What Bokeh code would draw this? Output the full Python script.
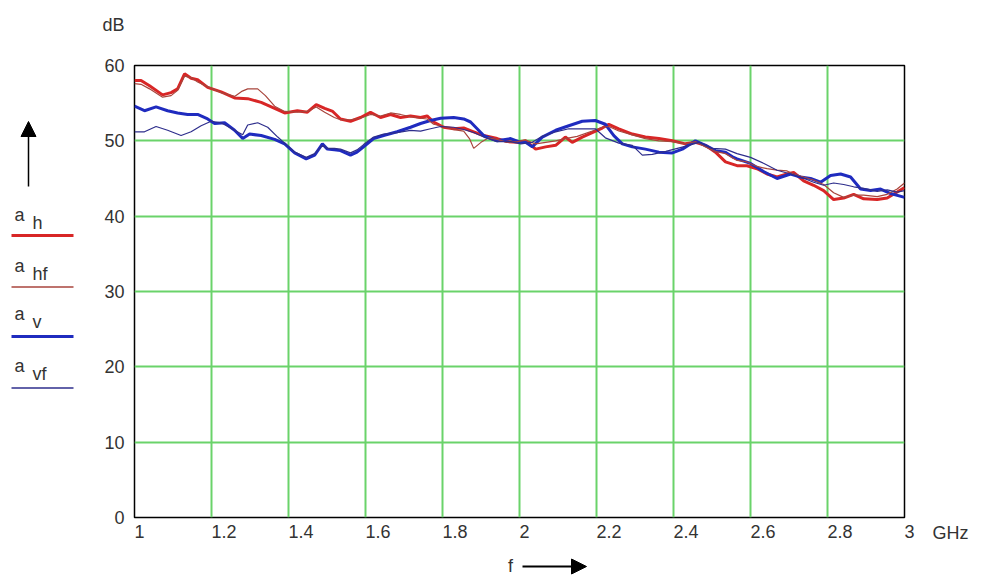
from bokeh.plotting import figure
from bokeh.models import FixedTicker, Label, Arrow, NormalHead, Range1d
from bokeh.layouts import row, column
from bokeh.embed import file_html
from bokeh.resources import INLINE

# ---------------- data ----------------
x_ticks = [1, 1.2, 1.4, 1.6, 1.8, 2, 2.2, 2.4, 2.6, 2.8, 3]
x_tick_labels = ["1", "1.2", "1.4", "1.6", "1.8", "2", "2.2", "2.4", "2.6", "2.8", "3"]
y_ticks = [0, 10, 20, 30, 40, 50, 60]
y_tick_labels = ["0", "10", "20", "30", "40", "50", "60"]

series_names = ["h", "hf", "v", "vf"]

ah_f = [1.000, 1.017, 1.039, 1.073, 1.095, 1.112, 1.130, 1.147, 1.164, 1.190, 1.225, 1.260, 1.294,
        1.329, 1.364, 1.390, 1.423, 1.449, 1.472, 1.494, 1.515, 1.535, 1.561, 1.587, 1.613, 1.639,
        1.665, 1.691, 1.717, 1.743, 1.760, 1.777, 1.803, 1.829, 1.855, 1.881, 1.907, 1.942, 1.968,
        1.994, 2.016, 2.042, 2.068, 2.094, 2.119, 2.137, 2.163, 2.189, 2.215, 2.232, 2.258, 2.293,
        2.327, 2.362, 2.397, 2.431, 2.457, 2.483, 2.509, 2.535, 2.565, 2.591, 2.617, 2.643, 2.669,
        2.695, 2.712, 2.738, 2.764, 2.790, 2.816, 2.842, 2.868, 2.894, 2.929, 2.955, 2.981, 3.000]
ah_db = [58.0, 58.0, 57.3, 56.1, 56.4, 56.9, 58.9, 58.3, 58.1, 57.1, 56.5, 55.7, 55.6,
         55.1, 54.3, 53.7, 54.0, 53.8, 54.8, 54.3, 53.9, 52.9, 52.6, 53.1, 53.8, 53.1,
         53.5, 53.1, 53.3, 53.1, 53.3, 52.5, 51.8, 51.6, 51.7, 51.2, 50.7, 50.3, 49.9,
         49.8, 50.0, 48.9, 49.2, 49.4, 50.5, 49.8, 50.5, 51.1, 51.7, 52.2, 51.6, 50.9,
         50.5, 50.3, 50.0, 49.6, 49.8, 49.4, 48.5, 47.2, 46.7, 46.7, 46.3, 45.6, 45.2,
         45.6, 45.8, 44.7, 44.1, 43.4, 42.2, 42.4, 42.9, 42.3, 42.2, 42.4, 43.2, 43.8]

ahf_f = [1.000, 1.017, 1.039, 1.073, 1.095, 1.112, 1.130, 1.147, 1.164, 1.190, 1.225, 1.260, 1.280,
         1.294, 1.320, 1.340, 1.364, 1.390, 1.423, 1.449, 1.472, 1.494, 1.519, 1.535, 1.561, 1.587,
         1.613, 1.639, 1.665, 1.691, 1.717, 1.743, 1.760, 1.777, 1.803, 1.829, 1.855, 1.870, 1.881,
         1.900, 1.920, 1.942, 1.968, 1.994, 2.016, 2.042, 2.068, 2.094, 2.119, 2.150, 2.189, 2.215,
         2.232, 2.258, 2.293, 2.327, 2.362, 2.397, 2.431, 2.457, 2.483, 2.509, 2.535, 2.565, 2.591,
         2.617, 2.643, 2.669, 2.695, 2.712, 2.738, 2.764, 2.790, 2.816, 2.842, 2.868, 2.894, 2.929,
         2.955, 2.981, 3.000]
ahf_db = [57.6, 57.5, 56.9, 55.8, 56.0, 56.7, 58.6, 58.4, 57.8, 57.2, 56.4, 55.9, 56.6,
          56.9, 56.9, 56.0, 54.6, 53.9, 53.8, 53.9, 54.5, 53.8, 53.1, 52.8, 52.8, 53.0,
          53.5, 53.3, 53.7, 53.5, 53.2, 53.0, 52.9, 52.2, 51.9, 51.5, 51.3, 50.3, 49.0,
          49.8, 50.4, 50.2, 49.8, 49.9, 50.1, 49.6, 49.8, 50.0, 50.3, 50.6, 51.3, 51.8,
          51.9, 51.3, 50.8, 50.3, 50.0, 49.9, 49.6, 49.9, 49.2, 48.6, 48.3, 47.4, 47.2,
          46.6, 46.3, 46.1, 46.0, 45.6, 45.2, 44.8, 44.2, 43.1, 42.5, 42.8, 42.8, 42.6,
          42.9, 43.6, 44.4]

av_f = [1.000, 1.026, 1.056, 1.086, 1.112, 1.138, 1.164, 1.190, 1.208, 1.234, 1.260, 1.281, 1.299,
        1.329, 1.364, 1.390, 1.416, 1.446, 1.468, 1.488, 1.501, 1.519, 1.535, 1.561, 1.578, 1.595,
        1.621, 1.647, 1.682, 1.717, 1.743, 1.769, 1.795, 1.829, 1.855, 1.873, 1.890, 1.907, 1.942,
        1.977, 2.003, 2.016, 2.033, 2.059, 2.094, 2.128, 2.163, 2.197, 2.223, 2.245, 2.267, 2.293,
        2.327, 2.362, 2.397, 2.423, 2.457, 2.483, 2.509, 2.535, 2.556, 2.565, 2.600, 2.635, 2.669,
        2.704, 2.730, 2.756, 2.782, 2.808, 2.834, 2.860, 2.886, 2.912, 2.938, 2.964, 3.000]
av_db = [54.6, 54.0, 54.5, 54.0, 53.7, 53.5, 53.5, 52.9, 52.3, 52.4, 51.4, 50.3, 50.9,
         50.7, 50.2, 49.6, 48.4, 47.6, 48.1, 49.6, 48.9, 48.8, 48.7, 48.1, 48.5, 49.2,
         50.3, 50.7, 51.2, 51.8, 52.3, 52.7, 53.0, 53.1, 52.9, 52.5, 51.6, 50.7, 50.0,
         50.3, 49.8, 49.8, 49.2, 50.5, 51.4, 52.0, 52.6, 52.7, 52.2, 50.7, 49.6, 49.2,
         48.9, 48.5, 48.4, 48.9, 50.0, 49.4, 48.7, 48.5, 47.8, 47.6, 47.0, 45.9, 45.0,
         45.6, 45.2, 45.0, 44.5, 45.4, 45.6, 45.2, 43.6, 43.4, 43.6, 43.0, 42.5]

avf_f = [1.000, 1.026, 1.056, 1.086, 1.121, 1.147, 1.173, 1.199, 1.225, 1.260, 1.281, 1.294, 1.320,
         1.346, 1.372, 1.390, 1.416, 1.446, 1.468, 1.488, 1.501, 1.519, 1.535, 1.561, 1.578, 1.595,
         1.621, 1.647, 1.682, 1.717, 1.743, 1.769, 1.795, 1.829, 1.855, 1.881, 1.907, 1.942, 1.977,
         2.003, 2.033, 2.059, 2.094, 2.128, 2.163, 2.197, 2.223, 2.258, 2.293, 2.319, 2.345, 2.380,
         2.410, 2.440, 2.466, 2.500, 2.535, 2.565, 2.600, 2.635, 2.669, 2.704, 2.730, 2.764, 2.790,
         2.816, 2.842, 2.868, 2.894, 2.929, 2.955, 2.981, 3.000]
avf_db = [51.2, 51.2, 51.9, 51.4, 50.7, 51.2, 52.0, 52.6, 52.4, 51.4, 50.8, 52.1, 52.4,
          51.8, 50.5, 49.7, 48.5, 47.8, 48.3, 49.4, 49.0, 49.0, 48.9, 48.4, 48.8, 49.5,
          50.5, 50.9, 51.1, 51.4, 51.3, 51.6, 51.9, 51.8, 51.5, 51.1, 50.5, 49.9, 49.9,
          49.6, 49.8, 50.6, 51.2, 51.6, 51.6, 51.6, 50.4, 49.7, 49.4, 48.1, 48.2, 48.6,
          49.0, 49.4, 49.8, 49.0, 48.9, 48.3, 47.8, 47.0, 46.1, 45.6, 45.2, 44.5, 44.1,
          44.4, 44.2, 43.9, 43.7, 43.3, 43.5, 43.2, 43.4]

# ---------------- styles ----------------
FONT = "Liberation Sans"
TXT = "#333333"
GRID = "#6ad36a"
colors = ["#d82626", "#a8453c", "#1f2bbf", "#2e2e8c"]
widths = [3, 1.2, 3, 1.2]
legend_widths = [3, 1.5, 3, 1.5]
NBSP = "\u00a0"


def left_aligned(s):
    # the axis centres its labels; pad with no-break spaces of the same width
    # (digit = 2 spaces, '.' = 1 space) so the visible text starts at the tick
    return NBSP * sum(2 if c.isdigit() else 1 for c in s) + s


# ---------------- main figure ----------------
p = figure(width=830, height=500, x_range=Range1d(1, 3), y_range=Range1d(0, 60),
           output_backend="svg", toolbar_location=None,
           min_border_left=46, min_border_right=14, min_border_top=15, min_border_bottom=33,
           background_fill_color="white", border_fill_color="white")

p.outline_line_color = "black"
p.outline_line_width = 1.5

p.xaxis.ticker = FixedTicker(ticks=x_ticks)
p.xaxis.major_label_overrides = {t: left_aligned(s) for t, s in zip(x_ticks, x_tick_labels)}
p.yaxis.ticker = FixedTicker(ticks=y_ticks)
p.yaxis.major_label_overrides = {t: s for t, s in zip(y_ticks, y_tick_labels)}
for ax in (p.xaxis, p.yaxis):
    ax.axis_line_color = None
    ax.major_tick_line_color = None
    ax.minor_tick_line_color = None
    ax.major_tick_out = 0
    ax.major_tick_in = 0
    ax.major_label_text_font = FONT
    ax.major_label_text_font_size = "18px"
    ax.major_label_text_color = TXT
p.xaxis.major_label_standoff = 4
p.yaxis.major_label_standoff = 10

p.xgrid.ticker = FixedTicker(ticks=x_ticks[1:-1])
p.ygrid.ticker = FixedTicker(ticks=y_ticks[1:-1])
p.grid.grid_line_color = GRID
p.grid.grid_line_width = 2
p.grid.grid_line_alpha = 1.0

p.line(ah_f, ah_db, line_color=colors[0], line_width=widths[0])
p.line(av_f, av_db, line_color=colors[2], line_width=widths[2])
p.line(ahf_f, ahf_db, line_color=colors[1], line_width=widths[1])
p.line(avf_f, avf_db, line_color=colors[3], line_width=widths[3])

# ---------------- side panels (page pixel coordinates) ----------------
def panel(w, h, x0, y0):
    f = figure(width=w, height=h, x_range=Range1d(x0, x0 + w), y_range=Range1d(y0 + h, y0),
               output_backend="svg", toolbar_location=None, x_axis_type=None, y_axis_type=None,
               min_border=0, outline_line_color=None, frame_align=False,
               background_fill_color="white", border_fill_color="white")
    return f


# top strip: unit of the y axis
T = panel(894, 50, 88, 0)
T.add_layout(Label(x=124, y=24, text="dB", text_align="right", text_baseline="middle",
                   text_font=FONT, text_font_size="18px", text_color=TXT))

# right strip: unit of the x axis
R = panel(64, 500, 918, 50)
R.add_layout(Label(x=932, y=532, text="GHz", text_align="left", text_baseline="middle",
                   text_font=FONT, text_font_size="18px", text_color=TXT))

# bottom strip: f arrow
B = panel(894, 25, 88, 550)
B.add_layout(Label(x=510, y=565, text="f", text_align="center", text_baseline="middle",
                   text_font=FONT, text_font_size="18px", text_color=TXT))
B.add_layout(Arrow(x_start=522, y_start=566, x_end=586, y_end=566, line_width=2,
                   line_color="black",
                   end=NormalHead(size=15, fill_color="black", line_color="black")))

# left strip: arrow and legend
L = panel(88, 575, 0, 0)
L.add_layout(Arrow(x_start=28, y_start=186, x_end=28, y_end=121, line_width=1.5,
                   line_color="black",
                   end=NormalHead(size=15, fill_color="black", line_color="black")))
a_base = [214, 265, 313, 365]
line_y = [235, 286.5, 336, 387.5]
for i, name in enumerate(series_names):
    L.add_layout(Label(x=14, y=a_base[i], text="a", text_font=FONT, text_font_size="18px",
                       text_color=TXT, text_baseline="alphabetic"))
    L.add_layout(Label(x=32, y=a_base[i] + 8, text=name, text_font=FONT, text_font_size="18px",
                       text_color=TXT, text_baseline="alphabetic"))
    L.segment(x0=[11], y0=[line_y[i]], x1=[73], y1=[line_y[i]],
              line_color=colors[i], line_width=legend_widths[i])

layout = row(L, column(T, row(p, R, spacing=0), B, spacing=0), spacing=0)

open("out.html", "w").write(file_html(layout, INLINE))
